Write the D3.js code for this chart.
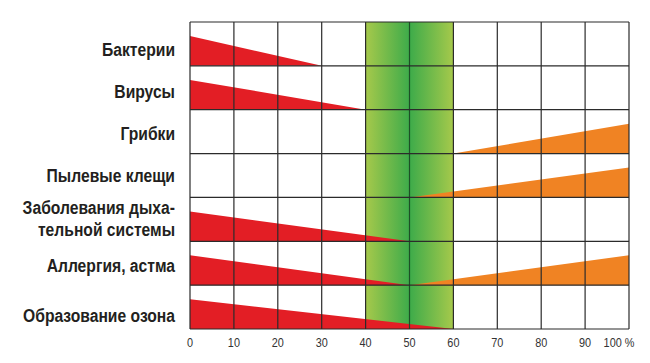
<!DOCTYPE html>
<html>
<head>
<meta charset="utf-8">
<script src="https://cdn.jsdelivr.net/npm/d3@7"></script>
<style>
  body { margin: 0; background: #fff; }
  svg { display: block; }
  .cat { font-family: 'Liberation Sans', Arial, sans-serif; font-weight: bold; font-size: 18px; fill: #231f20; }
  .tick-label { font-family: 'Liberation Sans', Arial, sans-serif; font-size: 12.5px; fill: #333; }
</style>
</head>
<body>
<div id="chart"></div>
<script>
const categories = [
  'Бактерии',
  'Вирусы',
  'Грибки',
  'Пылевые клещи',
  'Заболевания дыха-\nтельной системы',
  'Аллергия, астма',
  'Образование озона'
];
// red wedge: harm falls from 0% to this humidity
const redEnd = [30, 40, null, null, 50, 50, 60];
// orange wedge: harm rises from this humidity to 100%
const orangeStart = [null, null, 60, 50, null, 50, null];
const xTicks = [0, 10, 20, 30, 40, 50, 60, 70, 80, 90, 100];
const optimum = [40, 50, 60];
// small vertical shift of each row label
const labelNudge = [6, 4, 2, 0, 0, 3, 9];

const drawChart = (id) => {
  const width = 650;
  const height = 363;
  const margin = { top: 22, right: 21, bottom: 34, left: 190 };
  const squeeze = 0.87; // condensed look of the original type

  const svg = d3
    .select(`#${id}`)
    .append('svg')
    .attr('width', width)
    .attr('height', height);

  const x = d3
    .scaleLinear()
    .domain([0, 100])
    .range([margin.left, width - margin.right]);

  const y = d3
    .scaleBand()
    .domain(categories)
    .range([margin.top, height - margin.bottom]);

  const defs = svg.append('defs');
  const grad = defs
    .append('linearGradient')
    .attr('id', 'optimum-grad')
    .attr('x1', '0%')
    .attr('x2', '100%');
  grad.append('stop').attr('offset', '0%').attr('stop-color', '#a6c94b');
  grad.append('stop').attr('offset', '50%').attr('stop-color', '#3dab4a');
  grad.append('stop').attr('offset', '100%').attr('stop-color', '#a6c94b');

  // green optimum band
  svg
    .append('rect')
    .attr('x', x(optimum[0]))
    .attr('y', y.range()[0])
    .attr('width', x(optimum[2]) - x(optimum[0]))
    .attr('height', y.range()[1] - y.range()[0])
    .attr('fill', 'url(#optimum-grad)');

  const wedgeH = y.bandwidth() * 0.68;

  const rows = categories.map((c, i) => ({
    cat: c,
    red: redEnd[i],
    orange: orangeStart[i],
    nudge: labelNudge[i]
  }));

  svg
    .selectAll('.red')
    .data(rows.filter((d) => d.red !== null))
    .enter()
    .append('path')
    .attr('class', 'red')
    .attr('fill', '#e31e25')
    .attr('d', (d) => {
      const b = y(d.cat) + y.bandwidth();
      return `M${x(0)},${b}L${x(0)},${b - wedgeH}L${x(d.red)},${b}Z`;
    });

  svg
    .selectAll('.orange')
    .data(rows.filter((d) => d.orange !== null))
    .enter()
    .append('path')
    .attr('class', 'orange')
    .attr('fill', '#f08323')
    .attr('d', (d) => {
      const b = y(d.cat) + y.bandwidth();
      return `M${x(d.orange)},${b}L${x(100)},${b - wedgeH}L${x(100)},${b}Z`;
    });

  // grid
  const grid = svg.append('g').attr('stroke', '#2b2b2b').attr('stroke-width', 1.2);
  grid
    .selectAll('.v')
    .data(xTicks)
    .enter()
    .append('line')
    .attr('x1', (d) => x(d))
    .attr('x2', (d) => x(d))
    .attr('y1', y.range()[0])
    .attr('y2', y.range()[1])
    .attr('stroke', (d) => (d === optimum[1] ? '#1d4f26' : '#2b2b2b'));

  const hLines = categories.map((c) => y(c)).concat([y.range()[1]]);
  grid
    .selectAll('.h')
    .data(hLines)
    .enter()
    .append('line')
    .attr('x1', x(0))
    .attr('x2', x(100))
    .attr('y1', (d) => d)
    .attr('y2', (d) => d);

  // tick labels
  svg
    .selectAll('.tick-label')
    .data(xTicks)
    .enter()
    .append('text')
    .attr('class', 'tick-label')
    .attr('text-anchor', 'middle')
    .attr('transform', (d) =>
      `translate(${x(d) - (d === 100 ? 10 : 0)},${y.range()[1] + 18}) scale(${squeeze},1)`)
    .text((d) => (d === 100 ? '100 %' : d));

  // category labels
  const labels = svg
    .selectAll('.cat')
    .data(rows)
    .enter()
    .append('text')
    .attr('class', 'cat')
    .attr('text-anchor', 'end')
    .attr('transform', (d) =>
      `translate(${margin.left - 15},${y(d.cat) + y.bandwidth() / 2 + d.nudge}) scale(${squeeze},1)`);

  labels.each(function(d) {
    const lines = d.cat.split('\n');
    const lh = 22;
    const start = -((lines.length - 1) * lh) / 2 + 6;
    lines.forEach((l, k) => {
      d3.select(this)
        .append('tspan')
        .attr('x', 0)
        .attr('y', start + k * lh)
        .text(l);
    });
  });
};

drawChart('chart');
</script>
</body>
</html>
